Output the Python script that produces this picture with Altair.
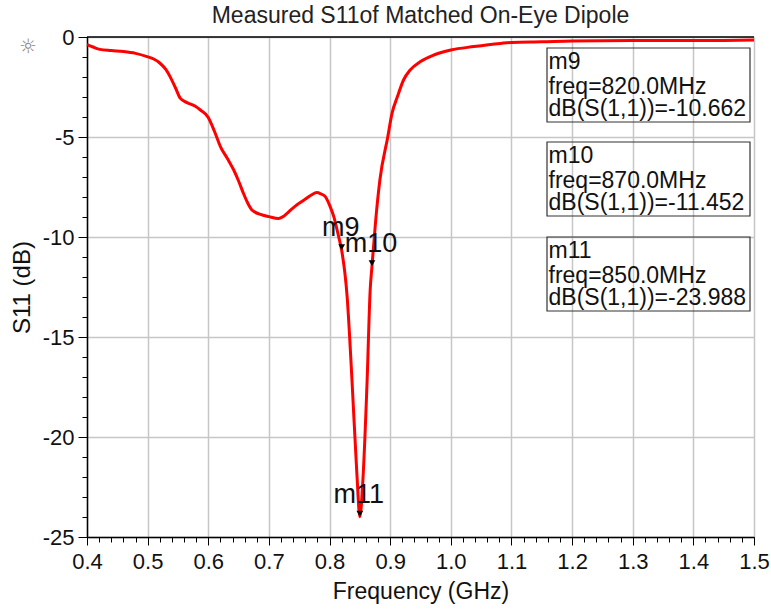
import altair as alt
import pandas as pd

FONT = "Liberation Sans"

# ---- data ----
freq_ghz = [0.400, 0.410, 0.421, 0.440, 0.460, 0.480, 0.499, 0.510, 0.520, 0.530,
            0.537, 0.546, 0.554, 0.565, 0.578, 0.587, 0.600, 0.610, 0.620, 0.632,
            0.642, 0.650, 0.658, 0.665, 0.672, 0.686, 0.700, 0.716, 0.725, 0.733,
            0.745, 0.758, 0.770, 0.779, 0.786, 0.793, 0.801, 0.807, 0.815, 0.820,
            0.829, 0.837, 0.845, 0.850, 0.855, 0.862, 0.867, 0.870, 0.876, 0.883,
            0.896, 0.903, 0.912, 0.922, 0.933, 0.950, 0.972, 1.000, 1.038, 1.082,
            1.100, 1.150, 1.200, 1.300, 1.400, 1.450, 1.500]
s11_db = [-0.38, -0.50, -0.62, -0.68, -0.73, -0.82, -0.98, -1.10, -1.30, -1.62,
          -1.98, -2.55, -3.07, -3.28, -3.45, -3.65, -4.02, -4.70, -5.48, -6.10,
          -6.65, -7.20, -7.82, -8.30, -8.65, -8.87, -8.98, -9.07, -8.95, -8.73,
          -8.42, -8.15, -7.90, -7.78, -7.85, -7.98, -8.48, -8.98, -9.98, -10.662,
          -12.98, -17.15, -21.80, -23.988, -22.15, -17.15, -12.65, -11.452, -9.20, -7.15,
          -5.00, -3.82, -2.98, -2.15, -1.65, -1.23, -0.90, -0.65, -0.48, -0.32,
          -0.27, -0.24, -0.20, -0.18, -0.18, -0.17, -0.15]

marker_names = ["m9", "m10", "m11"]
marker_freq = [0.820, 0.870, 0.850]
marker_db = [-10.662, -11.452, -23.988]

x_major = [0.4, 0.5, 0.6, 0.7, 0.8, 0.9, 1.0, 1.1, 1.2, 1.3, 1.4, 1.5]
x_minor = [round(0.4 + 0.02 * i, 2) for i in range(56)]
y_major = [0, -5, -10, -15, -20, -25]
y_minor = list(range(-25, 1))

title_text = "Measured S11of Matched On-Eye Dipole"
x_title = "Frequency (GHz)"
y_title = "S11 (dB)"

curve_df = pd.DataFrame({"freq": freq_ghz, "s11": s11_db})
mk_df = pd.DataFrame({"name": marker_names, "freq": marker_freq, "db": marker_db})

xs = alt.Scale(domain=[0.4, 1.5], nice=False, zero=False)
ys = alt.Scale(domain=[-25, 0], nice=False, zero=False)

GRID = "#c6c6c6"
HYPHEN_INT = "datum.value < 0 ? '-' + format(-datum.value, 'd') : format(datum.value, 'd')"

curve = alt.Chart(curve_df).mark_line(
    color="#ff0000", strokeWidth=3, interpolate="monotone"
).encode(
    x=alt.X("freq:Q", scale=xs, axis=alt.Axis(
        orient="bottom", values=x_major, format=".1f", tickSize=8, tickWidth=1,
        tickColor="black", domainColor="black", domainWidth=1.5,
        labelPadding=6, labelFont=FONT, labelFontSize=22, labelColor="#111",
        labelFlush=False, labelOverlap=False,
        grid=True, gridColor=GRID, gridWidth=1.5,
        title=x_title, titleFont=FONT, titleFontSize=23, titleFontWeight="normal",
        titleColor="#111", titleY=54, titleBaseline="middle")),
    y=alt.Y("s11:Q", scale=ys, axis=alt.Axis(
        orient="left", values=y_major, labelExpr=HYPHEN_INT, tickSize=9, tickWidth=1,
        tickColor="black", domainColor="black", domainWidth=1.5,
        labelPadding=4, labelFont=FONT, labelFontSize=22, labelColor="#111",
        labelFlush=False, labelOverlap=False,
        grid=True, gridColor=GRID, gridWidth=1.5,
        title=y_title, titleFont=FONT, titleFontSize=24, titleFontWeight="normal",
        titleColor="#111", titleX=-65, titleAngle=-90, titleBaseline="middle")),
)

minor = alt.Chart(curve_df).mark_line(opacity=0).encode(
    x=alt.X("freq:Q", scale=xs, axis=alt.Axis(
        orient="bottom", values=x_minor, labels=False, tickSize=5, tickWidth=1,
        tickColor="black", domain=False, grid=False, title="")),
    y=alt.Y("s11:Q", scale=ys, axis=alt.Axis(
        orient="left", values=y_minor, labels=False, tickSize=5, tickWidth=1,
        tickColor="black", domain=False, grid=False, title="")),
)

top_rule = alt.Chart(pd.DataFrame({"v": [0]})).mark_rule(
    color="black", strokeWidth=1.5
).encode(y=alt.Y("v:Q", scale=ys, axis=None))

tri = alt.Chart(mk_df).mark_point(
    shape="triangle-down", filled=True, size=45, color="black", opacity=1, yOffset=-3
).encode(
    x=alt.X("freq:Q", scale=xs, axis=None),
    y=alt.Y("db:Q", scale=ys, axis=None),
)

mk_lab = alt.Chart(mk_df).mark_text(
    font=FONT, fontSize=27, color="#111", align="center", baseline="middle", dx=-1, dy=-22
).encode(
    x=alt.X("freq:Q", scale=xs, axis=None),
    y=alt.Y("db:Q", scale=ys, axis=None),
    text="name:N",
)

layers = [curve, minor, top_rule, tri, mk_lab]

box_tops = [11, 105, 200]
one = pd.DataFrame({"a": [0]})
for i, (nm, f, d) in enumerate(zip(marker_names, marker_freq, marker_db)):
    top = box_tops[i]
    layers.append(alt.Chart(one).mark_rect(
        fill="transparent", stroke="#333", strokeWidth=1.2
    ).encode(x=alt.value(460), x2=alt.value(663), y=alt.value(top), y2=alt.value(top + 74)))
    lines = [nm, f"freq={f * 1000:.1f}MHz", f"dB(S(1,1))={d:.3f}"]
    for j, (ln, off) in enumerate(zip(lines, [13.5, 38.5, 60.5])):
        layers.append(alt.Chart(one).mark_text(
            font=FONT, fontSize=23, color="#111", align="left", baseline="middle"
        ).encode(x=alt.value(461.5), y=alt.value(top + off), text=alt.value(ln)))

sun = alt.Chart(one).mark_text(
    font="DejaVu Sans", fontSize=20, color="#888", align="center", baseline="middle"
).encode(x=alt.value(-59), y=alt.value(10), text=alt.value("\u263c"))
layers.append(sun)

title_mark = alt.Chart(one).mark_text(
    font=FONT, fontSize=23, color="#222", align="center", baseline="alphabetic"
).encode(x=alt.value(333.5), y=alt.value(-14), text=alt.value(title_text))
layers.append(title_mark)

chart = alt.layer(*layers).resolve_axis(x="independent", y="independent").properties(
    width=667, height=500,
    autosize=alt.AutoSizeParams(type="none"),
    padding={"left": 87, "top": 37, "right": 17, "bottom": 72},
    background="white",
).configure_view(stroke="transparent")

chart.save("out.html", embed_options={"renderer": "svg", "actions": False})
